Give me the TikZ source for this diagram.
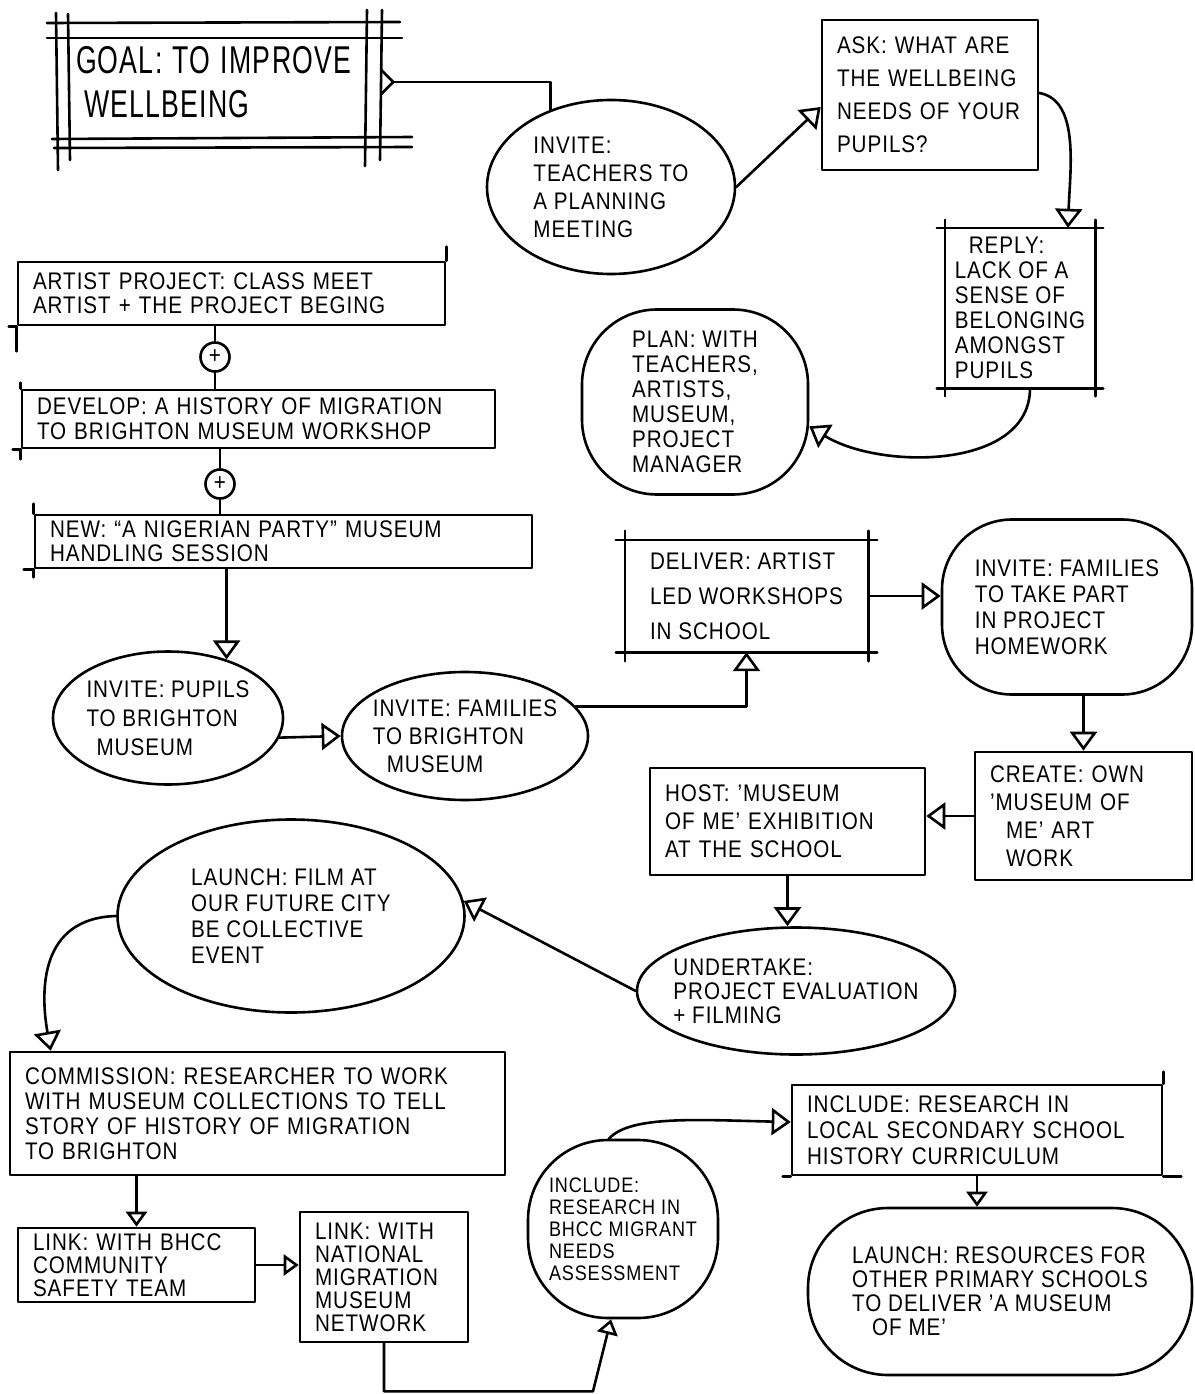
\documentclass[tikz,border=0pt]{standalone}
\usepackage{fontspec}
\setmainfont{Liberation Sans}[LetterSpace=4.0, FakeStretch=0.86]
\usetikzlibrary{arrows.meta,shapes.geometric,calc}
\newcommand\xedges[2]{%
  \draw[lw] ([xshift=-#2]#1.north west) -- ([xshift=#2]#1.north east);
  \draw[lw] ([xshift=-#2]#1.south west) -- ([xshift=#2]#1.south east);
  \draw[lw] ([yshift=#2]#1.north west) -- ([yshift=-#2]#1.south west);
  \draw[lw] ([yshift=#2]#1.north east) -- ([yshift=-#2]#1.south east);}
\begin{document}
\begin{tikzpicture}[x=1pt,y=-1pt,
  lw/.style={line width=2.6pt, line cap=round, line join=round},
  fs/.style={font=\fontsize{24}{#1}\selectfont},
  fs/.default=26,
  fss/.style={font=\fontsize{21}{#1}\selectfont},
  rbox/.style={draw, lw, rectangle, inner xsep=15pt, inner ysep=0pt, align=left},
  nbox/.style={rectangle, inner sep=4pt, align=left},
  blob/.style={draw, lw, ellipse, align=left},
  rblob/.style={draw, lw, rectangle, rounded corners=#1, align=left, inner sep=0pt},
  arr/.style={lw, -{Triangle[open, length=19pt, width=27pt]}},
  arrs/.style={lw, -{Triangle[open, length=15pt, width=21pt]}},
  pl/.style={draw, lw, circle, minimum size=29pt, inner sep=0pt, font=\fontsize{24}{24}\selectfont}
]
\fill[white] (0,0) rectangle (1194,1394);
\useasboundingbox (0,0) rectangle (1194,1394);

% goal frame
\draw[lw] (47,23) -- (400,22);
\draw[lw] (47,38) -- (402,38);
\draw[lw] (52,139) -- (412,137);
\draw[lw] (54,148) -- (412,147);
\draw[lw] (56,13) -- (58,170);
\draw[lw] (68,14) -- (70,160);
\draw[lw] (367,10) -- (365,166);
\draw[lw] (382,10) -- (380,160);
\node[minimum width=326pt, minimum height=110pt, inner sep=0pt, text width=284pt, align=left, font=\fontsize{31}{40}\selectfont] (goal) at (218,82) {\scalebox{1}[1.25]{GOAL: TO IMPROVE}\\[4pt]\hspace*{8pt}\scalebox{1}[1.25]{WELLBEING}};

% nodes
\node[blob, inner sep=0pt, minimum width=248pt, minimum height=174pt, fs=28] (invteach) at (611,187) {INVITE:\\TEACHERS TO\\A PLANNING\\MEETING};
\node[rbox, fs=33, text width=186pt, minimum height=150pt] (ask) at (930,95) {ASK: WHAT ARE\\THE WELLBEING\\NEEDS OF YOUR\\PUPILS?};
\node[nbox, fs=25, minimum width=150pt, minimum height=160pt] (reply) at (1020,308) {\hspace*{14pt}REPLY:\\LACK OF A\\SENSE OF\\BELONGING\\AMONGST\\PUPILS};
\xedges{reply}{8pt}
\node[rblob=75pt, minimum width=226pt, minimum height=185pt, fs=25] (plan) at (695,402) {PLAN: WITH\\TEACHERS,\\ARTISTS,\\MUSEUM,\\PROJECT\\MANAGER};

\node[rbox, fs=24, text width=397pt, minimum height=63pt] (artist) at (231.5,293.5) {ARTIST PROJECT: CLASS MEET\\ARTIST + THE PROJECT BEGING};
\node[pl] (plus1) at (215,357) {+};
\node[rbox, fs=25, text width=443pt, minimum height=58pt] (develop) at (258.5,419) {DEVELOP: A HISTORY OF MIGRATION\\TO BRIGHTON MUSEUM WORKSHOP};
\node[pl] (plus2) at (220,484) {+};
\node[rbox, fs=24, text width=467pt, minimum height=53pt] (new) at (283.5,541.5) {NEW: ``A NIGERIAN PARTY'' MUSEUM\\HANDLING SESSION};

\node[blob, inner xsep=-12pt, inner ysep=0pt, minimum width=230pt, minimum height=133pt, fs=29] (pupils) at (168,718) {INVITE: PUPILS\\TO BRIGHTON\\\hspace*{10pt}MUSEUM};
\node[blob, inner xsep=-20pt, inner ysep=0pt, minimum width=246pt, minimum height=128pt, fs=28] (families) at (465,736) {INVITE: FAMILIES\\TO BRIGHTON\\\hspace*{14pt}MUSEUM};
\node[nbox, fs=35, minimum width=243pt, minimum height=112pt] (deliver) at (746.5,596) {DELIVER: ARTIST\\LED WORKSHOPS\\IN SCHOOL};
\xedges{deliver}{9pt}
\node[rblob=70pt, minimum width=250pt, minimum height=175pt, fs=26] (homework) at (1067,607) {INVITE: FAMILIES\\TO TAKE PART\\IN PROJECT\\HOMEWORK};
\node[rbox, fs=28, text width=187pt, minimum height=128pt] (create) at (1083.5,816) {CREATE: OWN\\'MUSEUM OF\\\hspace*{16pt}ME' ART\\\hspace*{16pt}WORK};
\node[rbox, fs=28, text width=245pt, minimum height=107pt] (host) at (787.5,821.5) {HOST: 'MUSEUM\\OF ME' EXHIBITION\\AT THE SCHOOL};
\node[blob, inner xsep=-16pt, inner ysep=0pt, minimum width=318pt, minimum height=127pt, fs=24] (undertake) at (796,991) {UNDERTAKE:\\PROJECT EVALUATION\\+ FILMING};
\node[blob, inner sep=0pt, minimum width=347pt, minimum height=193pt, fs=26] (launchfilm) at (291,916) {LAUNCH: FILM AT\\OUR FUTURE CITY\\BE COLLECTIVE\\EVENT};
\node[rbox, fs=25, text width=465pt, minimum height=123pt] (commission) at (257.5,1113.5) {COMMISSION: RESEARCHER TO WORK\\WITH MUSEUM COLLECTIONS TO TELL\\STORY OF HISTORY OF MIGRATION\\TO BRIGHTON};
\node[rbox, fs=23, text width=207pt, minimum height=74pt] (linkb) at (136.5,1265) {LINK: WITH BHCC\\COMMUNITY\\SAFETY TEAM};
\node[rbox, fs=23, text width=138pt, minimum height=130pt] (linkn) at (384,1277) {LINK: WITH\\NATIONAL\\MIGRATION\\MUSEUM\\NETWORK};
\node[rblob=80pt, minimum width=190pt, minimum height=178pt, fss=22] (incb) at (623,1229) {INCLUDE:\\RESEARCH IN\\BHCC MIGRANT\\NEEDS\\ASSESSMENT};
\node[rbox, fs=26, text width=340pt, minimum height=90pt] (incs) at (977,1130) {INCLUDE: RESEARCH IN\\LOCAL SECONDARY SCHOOL\\HISTORY CURRICULUM};
\node[rblob=80pt, minimum width=384pt, minimum height=167pt, fs=24] (launchres) at (1000,1291.5) {LAUNCH: RESOURCES FOR\\OTHER PRIMARY SCHOOLS\\TO DELIVER 'A MUSEUM\\\hspace*{20pt}OF ME'};

% hand-drawn overshoots
\draw[lw] (artist.south west) -- ++(-8,0);
\draw[lw] (artist.south west) -- ++(0,25);
\draw[lw] (artist.north east) -- ++(0,-14);
\draw[lw] (develop.north west) -- ++(0,-6);
\draw[lw] (develop.south west) -- ++(-8,0);
\draw[lw] (develop.south west) -- ++(0,10);
\draw[lw] (new.north west) -- ++(0,-10);
\draw[lw] (new.south west) -- ++(-10,0);
\draw[lw] (new.south west) -- ++(0,8);
\draw[lw] (incs.north east) -- ++(0,-12);
\draw[lw] (incs.south west) -- ++(-8,0);
\draw[lw] (incs.south east) -- ++(18,0);

% connectors
\draw[lw] ([yshift=12pt]goal.east) -- ([xshift=12pt]goal.east) -- ([yshift=-12pt]goal.east);
\draw[lw] ([xshift=12pt]goal.east) -| (invteach.128);
\draw[arr] (invteach.east) -- ([yshift=-12pt]ask.west);
\draw[arr] ([yshift=2pt]ask.east) .. controls (1080,100) and (1070,170) .. ([xshift=48pt]reply.north);
\draw[arr] ([xshift=10pt]reply.south) .. controls (1030,470) and (880,470) .. (plan.-12);
\draw[lw] (plus1) -- (plus1 |- artist.south);
\draw[lw] (plus1) -- (plus1 |- develop.north);
\draw[lw] (plus2) -- (plus2 |- develop.south);
\draw[lw] (plus2) -- (plus2 |- new.north);
\draw[arr] (new.south -| pupils.45) -- (pupils.45);
\draw[arr] (pupils.-10) -- (families.west);
\draw[arr] (families.15) -| (deliver.south);
\draw[arr] (deliver.east) -- (deliver.east -| homework.west);
\draw[arr] (homework.south -| create.north) -- (create.north);
\draw[arr] (create.west) -- (create.west -| host.east);
\draw[arr] (host.south) -- (host.south |- undertake.north);
\draw[arr] (undertake.west) -- (launchfilm.5);
\draw[arr] (launchfilm.west) .. controls (40,918) and (40,990) .. ([xshift=42pt]commission.north west);
\draw[arrs] (commission.south -| linkb.north) -- (linkb.north);
\draw[arrs] (linkb.east) -- (linkb.east -| linkn.west);
\draw[arrs] (linkn.south) |- ($(incb.south)+(-30,72)$) -- ([xshift=-12pt]incb.south);
\draw[arr] ([xshift=-14pt]incb.north) .. controls (630,1115) and (700,1120) .. ([yshift=8pt]incs.west);
\draw[arrs] (incs.south) -- (incs.south |- launchres.north);
\end{tikzpicture}
\end{document}
